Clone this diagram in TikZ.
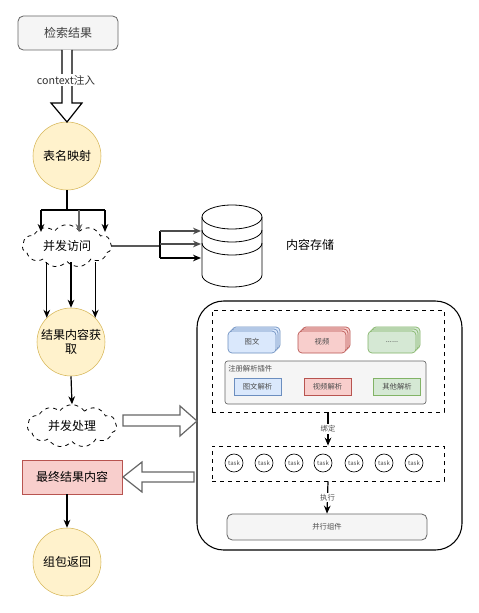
\documentclass[tikz,border=0pt]{standalone}
\usepackage{fontspec}
\setmainfont{Noto Sans CJK SC}
\usetikzlibrary{arrows.meta,shapes.symbols,shadows}

\definecolor{yelfill}{HTML}{FFF2CC}
\definecolor{yeldraw}{HTML}{D6B656}
\definecolor{redfill}{HTML}{F8CECC}
\definecolor{reddraw}{HTML}{B85450}
\definecolor{bluefill}{HTML}{DAE8FC}
\definecolor{bluedraw}{HTML}{6C8EBF}
\definecolor{grnfill}{HTML}{D5E8D4}
\definecolor{grndraw}{HTML}{82B366}
\definecolor{grayfill}{HTML}{F5F5F5}
\definecolor{graydraw}{HTML}{666666}

\tikzset{
  arr/.style={-{Stealth[length=6pt,width=5pt]}, line width=0.9pt},
  bigfont/.style={font=\fontsize{9}{11}\selectfont},
  smallfont/.style={font=\fontsize{5.5}{7}\selectfont, text=black!70},
  roundbox/.style={draw=graydraw, fill=grayfill, rounded corners=4pt, line width=0.6pt},
  ball/.style={circle, draw=yeldraw, fill=yelfill, minimum size=51pt, inner sep=0pt, bigfont, align=center},
  puff/.style={cloud, cloud puffs=11, cloud puff arc=110, aspect=2.1, draw, dashed,
    line width=0.6pt, minimum width=67pt, minimum height=32pt, inner sep=0pt, bigfont},
  plugin/.style={draw=#1draw, fill=#1fill, minimum width=36pt, minimum height=16.5pt,
    rounded corners=3pt, line width=0.5pt, smallfont,
    double copy shadow={shadow xshift=1.5pt, shadow yshift=1.5pt}},
  parser/.style={draw=#1draw, fill=#1fill, minimum width=35pt, minimum height=12.75pt,
    line width=0.5pt, smallfont},
  taskball/.style={circle, draw, minimum size=13.5pt, inner sep=0pt, line width=0.5pt,
    font=\fontsize{4.5}{5}\selectfont, text=black!70},
  hollow/.style={draw=graydraw, fill=white, line width=0.9pt, line join=miter}
}

\begin{document}
\begin{tikzpicture}[x=0.75pt, y=-0.75pt]
  \useasboundingbox[fill=white] (0,0) rectangle (478,613);

  % left column
  \node[roundbox, minimum width=75pt, minimum height=25.5pt, bigfont, text=black!75] (search) at (68,33) {检索结果};
  \node[ball] (map) at (67,156) {表名映射};
  \node[puff] (visit) at (67,246) {并发访问};
  \node[ball] (fetch) at (71,342) {结果内容获\\取};
  \node[puff] (proc) at (72,426) {并发处理};
  \node[draw=reddraw, fill=redfill, minimum width=75pt, minimum height=25.5pt, bigfont] (final) at (72,477) {最终结果内容};
  \node[ball] (pack) at (67,562) {组包返回};

  % context arrow
  \draw[line width=0.9pt, fill=white, line join=miter] (62,50) -- (62,103) -- (51,103) -- (67,122)
    -- (82,103) -- (72,103) -- (72,50);
  \node[fill=white, inner sep=1pt, font=\fontsize{8}{10}\selectfont, text=black!80] (ctx) at (66,80) {context注入};

  % split after table mapping
  \coordinate (split) at (67,210);
  \coordinate (sl) at (41,210);
  \coordinate (sm) at (79,210);
  \coordinate (sr) at (105,210);
  \draw[line width=0.9pt] (map.south) -- (split);
  \draw[line width=0.9pt] (sl) -- (sr);
  \draw[arr] (sl) -- (41,232);
  \draw[arr, black!60] (sm) -- (79,232);
  \draw[arr] (sr) -- (105,232);

  % storage
  \draw[line width=0.6pt, fill=white] (202,217) -- (202,275) arc[start angle=180, end angle=0, x radius=30, y radius=12]
    -- (262,217) arc[start angle=0, end angle=-180, x radius=30, y radius=12];
  \foreach \dy in {0,13,26}
    \draw[line width=0.6pt] (202,217+\dy) arc[start angle=180, end angle=0, x radius=30, y radius=12];
  \node[bigfont] (store) at (310,245) {内容存储};
  \coordinate (hub) at (160,246);
  \coordinate (db1) at (201,231);
  \coordinate (db2) at (201,244);
  \coordinate (db3) at (201,258);
  \draw[line width=0.9pt] (visit.east) -- (hub);
  \draw[line width=0.9pt] (hub |- db1) -- (hub |- db3);
  \draw[arr, black!70] (hub |- db1) -- (db1);
  \draw[arr, black!70] (hub |- db2) -- (db2);
  \draw[arr] (hub |- db3) -- (db3);

  % visit -> fetch
  \draw[arr] (fetch.135 |- visit.south) -- (fetch.135);
  \draw[arr] (fetch.north |- visit.south) -- (fetch.north);
  \draw[arr] (fetch.45 |- visit.south) -- (fetch.45);
  \draw[arr] (fetch.south) -- (proc.north);
  \draw[arr] (final.south -| pack.north) -- (pack.north);

  % right block
  \draw[line width=0.8pt, rounded corners=20pt] (197,301) rectangle (462,550);
  \node[draw, dashed, line width=0.6pt, minimum width=174pt, minimum height=76.5pt] (reg) at (328,361) {};
  \node[plugin=blue] (tuwen) at (252,342) {图文};
  \node[plugin=red] (video) at (322,342) {视频};
  \node[plugin=grn] (more) at (392,342) {......};
  \node[draw=graydraw, fill=grayfill, rounded corners=2pt, line width=0.5pt,
    minimum width=150.75pt, minimum height=32.25pt] (plug) at (325.5,382.5) {};
  \node[smallfont, anchor=west, inner sep=0pt] (plugname) at (228,369) {注册解析插件};
  \node[parser=blue] (tuwenp) at (257.5,386.5) {图文解析};
  \node[parser=red] (videop) at (327.5,386.5) {视频解析};
  \node[parser=grn] (otherp) at (397,386.5) {其他解析};

  \node[draw, dashed, line width=0.6pt, minimum width=174pt, minimum height=26.25pt] (pool) at (328,463.5) {};
  \foreach \tx in {234,264,294,323,354,384,414}
    \node[taskball] (t\tx) at (\tx,463) {task};

  \node[roundbox, minimum width=150pt, minimum height=19.5pt, smallfont] (par) at (327,527) {并行组件};

  \draw[arr] (reg.south) -- node[fill=white, smallfont, inner sep=1pt] (bind) {绑定} (pool.north);
  \draw[arr] (pool.south) -- node[fill=white, smallfont, inner sep=1pt] (exec) {执行} (par.north);

  % block arrows between columns
  \draw[hollow] (123,415) -- (180,415) -- (180,406) -- (197,421) -- (180,436) -- (180,426) -- (123,426) -- cycle;
  \draw[hollow] (194,472) -- (142,472) -- (142,462) -- (123,477) -- (142,492) -- (142,482) -- (194,482) -- cycle;
\end{tikzpicture}
\end{document}
